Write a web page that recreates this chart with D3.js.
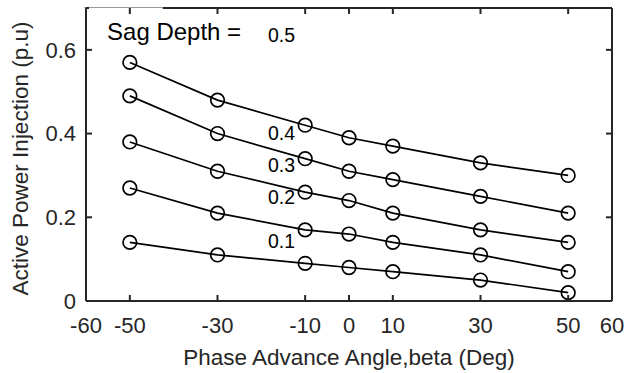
<!DOCTYPE html>
<html>
<head>
<meta charset="utf-8">
<script src="https://cdn.jsdelivr.net/npm/d3@7"></script>
<style>
  body { margin: 0; background: #fff; }
  svg text { font-family: "Liberation Sans", Arial, Helvetica, sans-serif; }
</style>
</head>
<body>
<div id="chart"></div>
<script>
'use strict';

// phase advance angle (deg)
var beta = [-50, -30, -10, 0, 10, 30, 50];

// sag depth of each curve
var sagDepth = ['0.1', '0.2', '0.3', '0.4', '0.5'];

// active power injection (p.u), one array per sag depth
var p01 = [0.14, 0.11, 0.09, 0.08, 0.07, 0.05, 0.02];
var p02 = [0.27, 0.21, 0.17, 0.16, 0.14, 0.11, 0.07];
var p03 = [0.38, 0.31, 0.26, 0.24, 0.21, 0.17, 0.14];
var p04 = [0.49, 0.40, 0.34, 0.31, 0.29, 0.25, 0.21];
var p05 = [0.57, 0.48, 0.42, 0.39, 0.37, 0.33, 0.30];

var xTicks = [-60, -50, -30, -10, 0, 10, 30, 50, 60];
var yTicks = [0, 0.2, 0.4, 0.6];

// where the sag depth values are written (data units, like matlab text())
var labelBeta = -18.5;
var labelP = [0.142, 0.249, 0.324, 0.402, 0.636];
var titleBeta = -55.2;
var titleP = 0.643;

var series = [p01, p02, p03, p04, p05];

var width = 634, height = 373;
var plot = {left: 86, right: 612, top: 8, bottom: 301};
var axisColor = '#262626';
var tickLen = 6;

var svg = d3.select('#chart').append('svg')
  .attr('width', width)
  .attr('height', height);

var x = d3.scaleLinear().domain([-60, 60]).range([plot.left, plot.right]);
var y = d3.scaleLinear().domain([0, 0.7]).range([plot.bottom, plot.top]);

var line = d3.line()
  .x((d, i) => x(beta[i]))
  .y((d) => y(d));

// curves
var g = svg.append('g').attr('class', 'curves');

g.selectAll('path')
  .data(series)
  .enter()
  .append('path')
  .attr('d', (d) => line(d))
  .attr('fill', 'none')
  .attr('stroke', '#000')
  .attr('stroke-width', 1.7);

series.forEach(function(s) {
  g.append('g').selectAll('circle')
    .data(s)
    .enter()
    .append('circle')
    .attr('cx', (d, i) => x(beta[i]))
    .attr('cy', (d) => y(d))
    .attr('r', 6.8)
    .attr('fill', 'none')
    .attr('stroke', '#000')
    .attr('stroke-width', 1.7);
});

// box and ticks
var ax = svg.append('g').attr('class', 'axes')
  .attr('stroke', axisColor)
  .attr('stroke-width', 2);

ax.append('line')
  .attr('x1', plot.left).attr('x2', plot.right)
  .attr('y1', plot.bottom).attr('y2', plot.bottom);
ax.append('line')
  .attr('x1', plot.left).attr('x2', plot.left)
  .attr('y1', plot.top).attr('y2', plot.bottom);
ax.append('line')
  .attr('x1', plot.right).attr('x2', plot.right)
  .attr('y1', plot.top).attr('y2', plot.bottom);
ax.append('line')
  .attr('x1', x(-42.5)).attr('x2', plot.right)
  .attr('y1', plot.top).attr('y2', plot.top);
// the text box covers the left part of the top edge
ax.append('line')
  .attr('x1', plot.left - 2).attr('x2', x(-42.5))
  .attr('y1', plot.top - 0.5).attr('y2', plot.top - 0.5)
  .attr('stroke', '#9a9a9a')
  .attr('stroke-width', 1.2);
ax.append('line')
  .attr('x1', plot.left).attr('x2', plot.left + 3)
  .attr('y1', plot.top).attr('y2', plot.top);

ax.selectAll('.xt')
  .data(xTicks)
  .enter()
  .append('line')
  .attr('x1', (d) => x(d)).attr('x2', (d) => x(d))
  .attr('y1', plot.bottom).attr('y2', plot.bottom - tickLen);

ax.selectAll('.xtt')
  .data(xTicks.slice(1, -1))
  .enter()
  .append('line')
  .attr('x1', (d) => x(d)).attr('x2', (d) => x(d))
  .attr('y1', plot.top).attr('y2', plot.top + tickLen);

ax.selectAll('.yt')
  .data(yTicks.slice(1))
  .enter()
  .append('line')
  .attr('x1', plot.left).attr('x2', plot.left + tickLen)
  .attr('y1', (d) => y(d)).attr('y2', (d) => y(d));

ax.selectAll('.ytr')
  .data(yTicks.slice(1))
  .enter()
  .append('line')
  .attr('x1', plot.right).attr('x2', plot.right - tickLen)
  .attr('y1', (d) => y(d)).attr('y2', (d) => y(d));

// tick labels
svg.append('g').selectAll('text')
  .data(xTicks)
  .enter()
  .append('text')
  .attr('x', (d) => x(d))
  .attr('y', plot.bottom + 32)
  .attr('text-anchor', 'middle')
  .attr('fill', axisColor)
  .style('font-size', '22px')
  .text((d) => d);

svg.append('g').selectAll('text')
  .data(yTicks)
  .enter()
  .append('text')
  .attr('x', plot.left - 10)
  .attr('y', (d) => y(d))
  .attr('dy', '0.36em')
  .attr('text-anchor', 'end')
  .attr('fill', axisColor)
  .style('font-size', '22px')
  .text((d) => d === 0 ? '0' : d3.format('.1f')(d));

// axis titles
svg.append('text')
  .attr('x', (plot.left + plot.right) / 2)
  .attr('y', 365)
  .attr('text-anchor', 'middle')
  .attr('fill', axisColor)
  .style('font-size', '22.5px')
  .text('Phase Advance Angle,beta (Deg)');

svg.append('text')
  .attr('transform', 'translate(28,' + ((plot.top + plot.bottom) / 2 + 4) + ') rotate(-90)')
  .attr('text-anchor', 'middle')
  .attr('fill', axisColor)
  .style('font-size', '22.5px')
  .text('Active Power Injection (p.u)');

// sag depth annotations
svg.append('text')
  .attr('x', x(titleBeta))
  .attr('y', y(titleP))
  .attr('dy', '0.35em')
  .attr('fill', '#000')
  .style('font-size', '24px')
  .text('Sag Depth =');

svg.append('g').selectAll('text')
  .data(sagDepth)
  .enter()
  .append('text')
  .attr('x', x(labelBeta))
  .attr('y', (d, i) => y(labelP[i]))
  .attr('dy', '0.35em')
  .attr('fill', '#000')
  .style('font-size', '19.5px')
  .text((d) => d);
</script>
</body>
</html>
